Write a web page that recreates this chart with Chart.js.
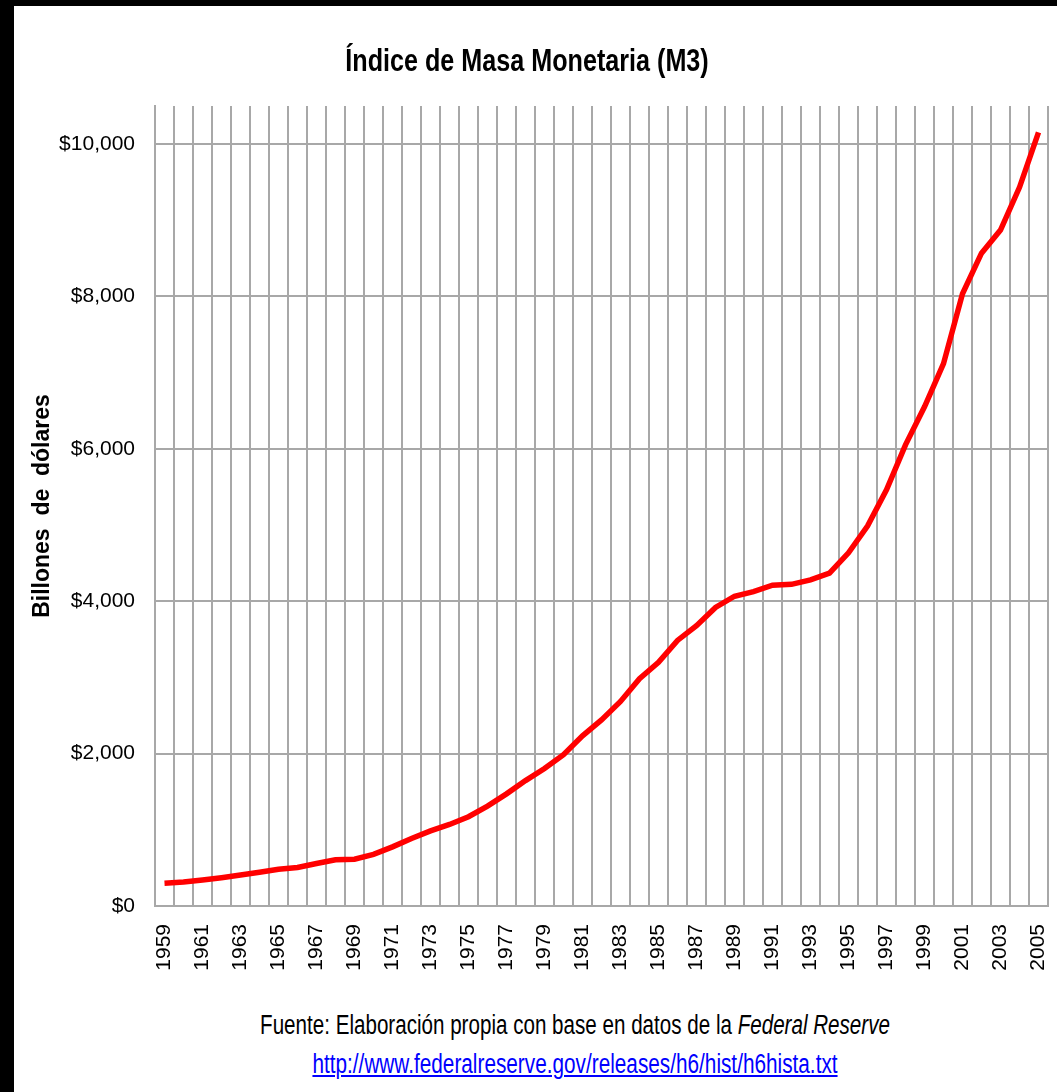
<!DOCTYPE html>
<html>
<head>
<meta charset="utf-8">
<script src="https://cdn.jsdelivr.net/npm/chart.js@4.4.1/dist/chart.umd.min.js"></script>
<style>
  html, body { margin: 0; padding: 0; background: #000; }
  #page { position: absolute; left: 14px; top: 6px; width: 1043px; height: 1086px; background: #fff; overflow: hidden; }
  #chart { position: absolute; left: 0; top: 0; }
  .txt { position: absolute; left: 561px; white-space: nowrap; color: #000;
         font-family: 'Liberation Sans', Arial, sans-serif; transform-origin: center; }
  #title { left: 513px; top: 35px; font-size: 32px; line-height: 38px; font-weight: bold; transform: translateX(-50%) scaleX(0.786); }
  #src { top: 1006px; font-size: 27px; line-height: 27px; transform: translateX(-50%) scaleX(0.763); }
  #url { top: 1045px; font-size: 27px; line-height: 27px; transform: translateX(-50%) scaleX(0.769); }
  #url a { color: #0000ff; text-decoration: underline; }
</style>
</head>
<body>
<div id="page">
  <canvas id="chart" width="1043" height="994"></canvas>
  <div id="title" class="txt">Índice de Masa Monetaria (M3)</div>
  <div id="src" class="txt">Fuente: Elaboración propia con base en datos de la <i>Federal Reserve</i></div>
  <div id="url" class="txt"><a href="http://www.federalreserve.gov/releases/h6/hist/h6hista.txt">http://www.federalreserve.gov/releases/h6/hist/h6hista.txt</a></div>
</div>
<script>
// M3, billones de dolares
var years = [];
for (var y = 1959; y <= 2005; y++) years.push(String(y));
var m3 = [300, 315, 341, 371, 406, 442, 482, 505, 557, 606,
          615, 677, 776, 886, 985, 1070, 1172, 1312, 1472, 1646,
          1804, 1987, 2234, 2443, 2685, 2983, 3197, 3486, 3679, 3919,
          4066, 4125, 4210, 4222, 4281, 4368, 4636, 4986, 5462, 6052,
          6552, 7118, 8035, 8568, 8872, 9433, 10154];
var yTicks = [0, 2000, 4000, 6000, 8000, 10000];

var font = "'Liberation Sans', Arial, sans-serif";
var gridColor = '#a8a8a8';

var ctx = document.getElementById('chart').getContext('2d');
var chart = new Chart(ctx, {
  type: 'line',
  data: {
    labels: years,
    datasets: [{
      data: m3,
      borderColor: '#ff0000',
      borderWidth: 5.5,
      pointRadius: 0,
      tension: 0,
      fill: false
    }]
  },
  options: {
    responsive: false,
    animation: false,
    layout: { padding: { top: 100, right: 9, left: 0, bottom: 0 } },
    plugins: {
      legend: { display: false },
      tooltip: { enabled: false }
    },
    scales: {
      x: {
        type: 'category',
        offset: true,
        grid: { offset: true, color: gridColor, lineWidth: 2, drawTicks: false },
        border: { color: gridColor, width: 2 },
        ticks: {
          autoSkip: false,
          minRotation: 90,
          maxRotation: 90,
          padding: 18,
          color: '#000',
          font: { family: font, size: 21 },
          callback: function(v, i) { return i % 2 === 0 ? years[i] : ''; }
        },
        afterFit: function(s) { s.height = 94; s.paddingLeft = 0; s.paddingRight = 0; }
      },
      y: {
        min: 0,
        max: 10500,
        grid: { color: gridColor, lineWidth: 2, drawTicks: false },
        border: { color: gridColor, width: 2 },
        ticks: {
          padding: 20,
          color: '#000',
          font: { family: font, size: 21 },
          callback: function(v) { return '$' + v.toLocaleString('en-US'); }
        },
        afterBuildTicks: function(s) {
          s.ticks = yTicks.map(function(v) { return { value: v }; });
        },
        title: {
          display: true,
          text: 'Billones  de  dólares',
          color: '#000',
          font: { family: font, size: 23, weight: 'bold' },
          padding: { top: 15, bottom: 0 }
        },
        afterFit: function(s) { s.width = 141; s.paddingTop = 0; s.paddingBottom = 0; }
      }
    }
  }
});
</script>
</body>
</html>
